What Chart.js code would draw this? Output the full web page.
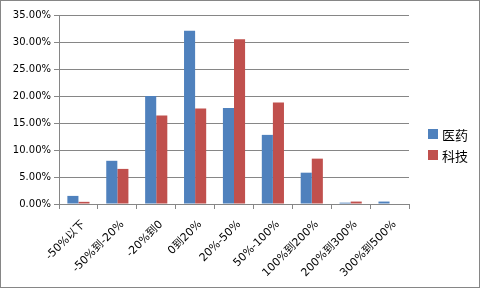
<!DOCTYPE html>
<html>
<head>
<meta charset="utf-8">
<script src="https://cdn.jsdelivr.net/npm/chart.js@4"></script>
<style>
  body { margin: 0; background: #fff; }
  #wrap { width: 478px; height: 286px; border: 1px solid #868686; }
</style>
</head>
<body>
<div id="wrap"><canvas id="chart" width="478" height="286"></canvas></div>
<script>
const categories = ["-50%以下", "-50%到-20%", "-20%到0", "0到20%", "20%-50%", "50%-100%", "100%到200%", "200%到300%", "300%到500%"];
const medValues = [1.5, 8.0, 20.0, 32.1, 17.8, 12.8, 5.8, 0.25, 0.45];
const techValues = [0.4, 6.5, 16.4, 17.7, 30.5, 18.8, 8.4, 0.45, 0];
const seriesNames = ["医药", "科技"];

// legend drawn by hand so it can sit where the original puts it
const sideLegend = {
  id: 'sideLegend',
  afterDraw(chart) {
    const c = chart.ctx;
    c.save();
    c.font = '13px "Noto Sans CJK SC", "DejaVu Sans"';
    c.textBaseline = 'middle';
    chart.data.datasets.forEach((ds, i) => {
      const y = 133 + i * 21;
      c.fillStyle = ds.backgroundColor;
      c.fillRect(427, y - 5, 10, 10);
      c.fillStyle = '#000';
      c.fillText(ds.label, 441, y + 1);
    });
    c.restore();
  }
};

const ctx = document.getElementById('chart').getContext('2d');
new Chart(ctx, {
  type: 'bar',
  data: {
    labels: categories,
    datasets: [
      { label: seriesNames[0], data: medValues, backgroundColor: '#4F81BD' },
      { label: seriesNames[1], data: techValues, backgroundColor: '#C0504D' }
    ]
  },
  plugins: [sideLegend],
  options: {
    responsive: false,
    animation: false,
    layout: { padding: { top: 14, right: 70, left: 0, bottom: 0 } },
    datasets: { bar: { categoryPercentage: 0.57, barPercentage: 1 } },
    plugins: {
      tooltip: { enabled: false },
      legend: { display: false }
    },
    scales: {
      x: {
        afterFit: s => { s.height = 83; },
        grid: { offset: true, drawOnChartArea: false, tickLength: 5, color: '#868686' },
        border: { color: '#868686' },
        ticks: {
          minRotation: 45,
          maxRotation: 45,
          padding: 9,
          labelOffset: 5,
          color: '#000',
          font: { family: '"DejaVu Sans", "Noto Sans CJK SC"', size: 11 }
        }
      },
      y: {
        min: 0,
        max: 35,
        afterFit: s => { s.width = 58; },
        grid: { color: '#868686', tickLength: 5 },
        border: { color: '#868686' },
        ticks: {
          stepSize: 5,
          padding: 3,
          color: '#000',
          font: { family: '"DejaVu Sans"', size: 10 },
          callback: v => v.toFixed(2) + '%'
        }
      }
    }
  }
});
</script>
</body>
</html>
